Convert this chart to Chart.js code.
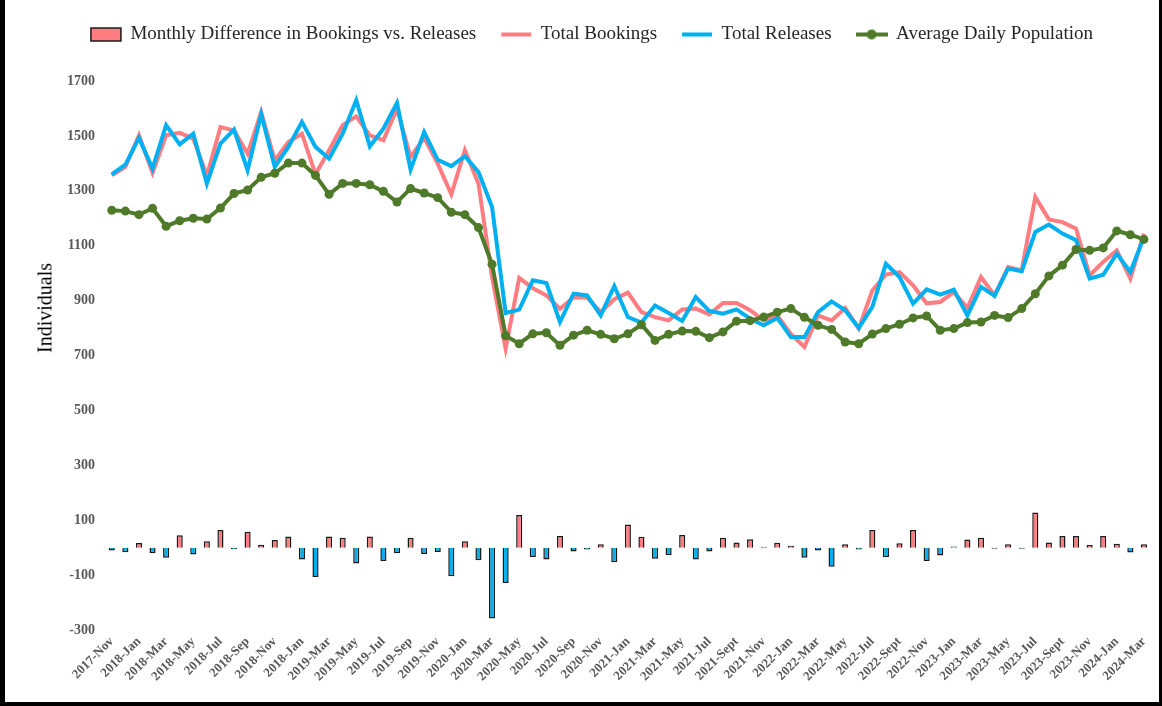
<!DOCTYPE html>
<html>
<head>
<meta charset="utf-8">
<script src="https://cdn.jsdelivr.net/npm/chart.js"></script>
<style>
  html, body { margin: 0; padding: 0; background: #fff; }
  #wrap {
    position: relative;
    width: 1154px;
    height: 702px;
    border-left: 5px solid #000;
    border-right: 3px solid #000;
    border-bottom: 4px solid #000;
  }
  #ytitle {
    position: absolute;
    left: 40px;
    top: 308px;
    transform: translate(-50%, -50%) rotate(-90deg);
    font: 20px 'Liberation Serif', serif;
    color: #000;
    white-space: nowrap;
  }
</style>
</head>
<body>
<div id="wrap"><canvas id="chart"></canvas><div id="ytitle">Individuals</div></div>
<script>
// months Nov 2017 - Mar 2024 (labels kept as they appear on the original axis)
const categories = [
  '2017-Nov', '2017-Dec',
  '2018-Jan', '2018-Feb', '2018-Mar', '2018-Apr', '2018-May', '2018-Jun',
  '2018-Jul', '2018-Aug', '2018-Sep', '2018-Oct', '2018-Nov', '2018-Dec',
  '2018-Jan', '2019-Feb', '2019-Mar', '2019-Apr', '2019-May', '2019-Jun',
  '2019-Jul', '2019-Aug', '2019-Sep', '2019-Oct', '2019-Nov', '2019-Dec',
  '2020-Jan', '2020-Feb', '2020-Mar', '2020-Apr', '2020-May', '2020-Jun',
  '2020-Jul', '2020-Aug', '2020-Sep', '2020-Oct', '2020-Nov', '2020-Dec',
  '2021-Jan', '2021-Feb', '2021-Mar', '2021-Apr', '2021-May', '2021-Jun',
  '2021-Jul', '2021-Aug', '2021-Sept', '2021-Oct', '2021-Nov', '2021-Dec',
  '2022-Jan', '2022-Feb', '2022-Mar', '2022-Apr', '2022-May', '2022-Jun',
  '2022-Jul', '2022-Aug', '2022-Sept', '2022-Oct', '2022-Nov', '2022-Dec',
  '2023-Jan', '2023-Feb', '2023-Mar', '2023-Apr', '2023-May', '2023-Jun',
  '2023-Jul', '2023-Aug', '2023-Sept', '2023-Oct', '2023-Nov', '2023-Dec',
  '2024-Jan', '2024-Feb', '2024-Mar'
];

const difference = [
  -10, -17, 17, -20, -37, 45, -25, 23, 64, -6, 58, 11, 28, 41,
  -43, -107, 41, 36, -58, 41, -49, -20, 36, -23, -16, -104,
  23, -46, -258, -129, 119, -34, -43, 42, -14, -7, 12, -53,
  84, 40, -40, -27, 46, -43, -14, 36, 19, 31, 3, 18,
  7, -37, -10, -70, 12, -7, 64, -35, 16, 64, -49, -29,
  4, 30, 36, -4, 12, -4, 128, 19, 42, 42, 10, 42,
  14, -18, 12
];

const bookings = [
  1356, 1387, 1502, 1365, 1502, 1511, 1490, 1355, 1532, 1520, 1435, 1587, 1411, 1478,
  1508, 1360, 1448, 1539, 1571, 1502, 1484, 1599, 1423, 1493, 1399, 1287,
  1448, 1326, 985, 725, 983, 945, 919, 870, 911, 911, 858, 905,
  929, 858, 840, 828, 868, 871, 850, 891, 891, 865, 828, 846,
  779, 731, 846, 828, 873, 798, 937, 995, 1004, 956, 890, 895,
  931, 873, 986, 919, 1022, 1010, 1277, 1196, 1186, 1162, 992, 1041,
  1083, 980, 1144
];

const releases = [
  1360, 1395, 1493, 1381, 1539, 1469, 1508, 1326, 1472, 1523, 1375, 1579, 1387, 1460,
  1551, 1460, 1417, 1508, 1630, 1462, 1526, 1620, 1377, 1514, 1413, 1390,
  1426, 1368, 1241, 855, 867, 974, 964, 822, 925, 919, 846, 953,
  840, 820, 882, 855, 826, 913, 862, 852, 868, 834, 810, 837,
  767, 767, 858, 897, 865, 800, 877, 1034, 986, 889, 941, 922,
  940, 846, 950, 917, 1017, 1007, 1150, 1177, 1144, 1120, 980, 994,
  1071, 1004, 1132
];

const avgDailyPop = [
  1229, 1226, 1213, 1236, 1171, 1191, 1200, 1197, 1237, 1290, 1303, 1349, 1364, 1401,
  1401, 1356, 1287, 1327, 1327, 1322, 1298, 1259, 1308, 1292, 1275, 1222,
  1213, 1166, 1032, 772, 743, 779, 783, 737, 774, 792, 777, 761,
  779, 812, 755, 777, 789, 788, 765, 786, 825, 827, 840, 858,
  871, 839, 810, 795, 749, 743, 778, 798, 814, 837, 844, 792,
  798, 820, 822, 846, 838, 871, 925, 990, 1029, 1086, 1083, 1092,
  1154, 1140, 1123
];

const yTickValues = [-300, -100, 100, 300, 500, 700, 900, 1100, 1300, 1500, 1700];

const RED = '#ff7c80';
const BLUE = '#00b0f0';
const GREEN = '#4e7a2a';

// little glyph for the ADP legend entry (line with a marker)
function adpGlyph() {
  const c = document.createElement('canvas');
  c.width = 32; c.height = 12;
  const g = c.getContext('2d');
  g.strokeStyle = GREEN; g.lineWidth = 4;
  g.beginPath(); g.moveTo(0, 6); g.lineTo(32, 6); g.stroke();
  g.fillStyle = GREEN;
  g.beginPath(); g.arc(16, 6, 5, 0, Math.PI * 2); g.fill();
  return c;
}
const adpIcon = adpGlyph();

const legendSpacing = {
  id: 'legendSpacing',
  beforeInit(chart) {
    const fit = chart.legend.fit;
    chart.legend.fit = function () {
      fit.call(this);
      this.height += 27;
    };
  }
};

Chart.defaults.font.family = "'Liberation Serif', serif";

const ctx = document.getElementById('chart').getContext('2d');
const chart = new Chart(ctx, {
  data: {
    labels: categories,
    datasets: [
      {
        type: 'bar',
        label: 'Monthly Difference in Bookings vs. Releases',
        data: difference,
        backgroundColor: c => (c.raw >= 0 ? RED : BLUE),
        borderColor: '#1a1a1a',
        borderWidth: 1.5,
        barPercentage: 0.45,
        categoryPercentage: 1.0,
        order: 4
      },
      {
        type: 'line',
        label: 'Total Bookings',
        data: bookings,
        borderColor: RED,
        borderWidth: 4,
        pointRadius: 0,
        tension: 0,
        order: 3
      },
      {
        type: 'line',
        label: 'Total Releases',
        data: releases,
        borderColor: BLUE,
        borderWidth: 4,
        pointRadius: 0,
        tension: 0,
        order: 2
      },
      {
        type: 'line',
        label: 'Average Daily Population',
        data: avgDailyPop,
        borderColor: GREEN,
        backgroundColor: GREEN,
        borderWidth: 4,
        pointRadius: 4.5,
        pointBorderWidth: 0,
        pointBackgroundColor: GREEN,
        tension: 0,
        order: 1
      }
    ]
  },
  options: {
    responsive: true,
    maintainAspectRatio: false,
    animation: false,
    devicePixelRatio: 1,
    layout: { padding: { top: 0, right: 2, left: 22, bottom: 0 } },
    plugins: {
      tooltip: { enabled: false },
      legend: {
        position: 'top',
        labels: {
          font: { size: 19 },
          color: '#262626',
          usePointStyle: true,
          pointStyleWidth: 30,
          boxHeight: 13,
          padding: 25,
          sort: (a, b) => a.datasetIndex - b.datasetIndex,
          generateLabels(chart) {
            const items = Chart.defaults.plugins.legend.labels.generateLabels(chart);
            items.forEach(it => {
              if (it.datasetIndex === 0) {
                it.pointStyle = 'rect';
                it.fillStyle = RED;
                it.strokeStyle = '#1a1a1a';
                it.lineWidth = 1.5;
              } else if (it.datasetIndex === 3) {
                it.pointStyle = adpIcon;
              } else {
                it.pointStyle = 'line';
                it.lineWidth = 4;
                it.strokeStyle = it.datasetIndex === 1 ? RED : BLUE;
              }
            });
            return items;
          }
        }
      }
    },
    scales: {
      x: {
        grid: { display: false, drawTicks: false },
        border: { display: false },
        afterFit: s => { s.height = 72; },
        ticks: {
          autoSkip: false,
          minRotation: 45,
          maxRotation: 45,
          padding: 4,
          color: '#595959',
          font: { size: 13, weight: 'bold' },
          callback: (v, i) => (i % 2 === 0 ? categories[i] : '')
        }
      },
      y: {
        min: -300,
        max: 1700,
        afterBuildTicks: s => { s.ticks = yTickValues.map(v => ({ value: v })); },
        afterFit: s => { s.width = 78; },
        grid: {
          drawTicks: false,
          lineWidth: 2,
          color: c => (c.tick && c.tick.value === 0 ? '#d9d9d9' : 'rgba(0,0,0,0)')
        },
        border: { display: false },
        ticks: {
          padding: 10,
          color: '#595959',
          font: { size: 14, weight: 'bold' },
          callback: v => String(v)
        }
      }
    }
  },
  plugins: [legendSpacing]
});
</script>
</body>
</html>
